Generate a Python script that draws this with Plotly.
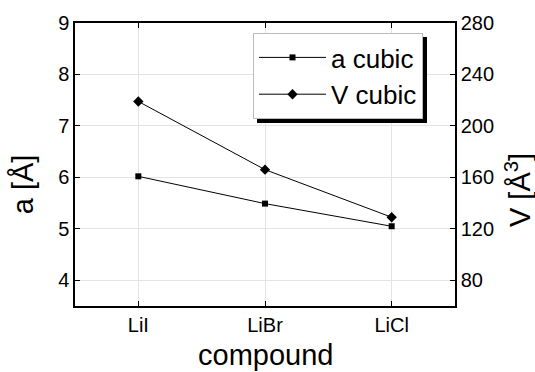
import plotly.graph_objects as go

compounds = ["LiI", "LiBr", "LiCl"]
a_cubic = [6.02, 5.49, 5.05]
v_cubic = [219.0, 166.0, 129.0]

FONT = "Liberation Sans, Arial, sans-serif"

# plot area in pixels: left 75, right 455, top 23, bottom 306
def px_x(p):
    return (p - 75) / 380.0

def px_y(p):
    return (306 - p) / 283.0

fig = go.Figure()
fig.add_trace(go.Scatter(
    x=compounds, y=a_cubic, name="a cubic", mode="lines+markers",
    line=dict(color="black", width=1),
    marker=dict(symbol="square", size=6, color="black"),
))
fig.add_trace(go.Scatter(
    x=compounds, y=v_cubic, name="V cubic", mode="lines+markers", yaxis="y2",
    line=dict(color="black", width=1),
    marker=dict(symbol="diamond", size=8, color="black"),
))

axis_common = dict(
    showline=True, linecolor="black", linewidth=1.5,
    ticks="inside", ticklen=5, tickcolor="black",
    gridcolor="#e3e3e3", gridwidth=1,
    tickfont=dict(size=20, color="black", family=FONT),
    zeroline=False,
)

fig.update_layout(
    width=535, height=372,
    margin=dict(l=75, r=80, t=23, b=66),
    paper_bgcolor="white", plot_bgcolor="white",
    font=dict(family=FONT, color="black"),
    xaxis=dict(**axis_common, showgrid=True, range=[-0.5, 2.5], mirror="ticks"),
    yaxis=dict(**axis_common, showgrid=True, range=[3.5, 9], dtick=1, mirror=False),
    yaxis2=dict(
        **axis_common, showgrid=False,
        overlaying="y", side="right", range=[60, 280],
        tickvals=[80, 120, 160, 200, 240, 280],
    ),
    legend=dict(
        x=px_x(253), y=px_y(33), xanchor="left", yanchor="top",
        bgcolor="white", bordercolor="#bbbbbb", borderwidth=1,
        font=dict(size=26, family=FONT, color="black"),
        tracegroupgap=0, itemwidth=67,
    ),
    showlegend=True,
    shapes=[
        dict(type="rect", xref="paper", yref="paper", layer="above",
             x0=px_x(257), x1=px_x(427), y0=px_y(123), y1=px_y(37),
             fillcolor="black", line=dict(width=0)),
    ],
    annotations=[
        dict(text="compound", xref="paper", yref="paper", x=0.5, y=-0.173,
             xanchor="center", yanchor="middle", showarrow=False,
             font=dict(size=29, family=FONT, color="black")),
        dict(text="a [Å]", xref="paper", yref="paper", x=-0.137, y=0.43,
             xanchor="center", yanchor="middle", showarrow=False, textangle=-90,
             font=dict(size=29, family=FONT, color="black")),
        dict(text="V [Å<sup>3</sup>]", xref="paper", yref="paper", x=1.166, y=0.41,
             xanchor="center", yanchor="middle", showarrow=False, textangle=-90,
             font=dict(size=29, family=FONT, color="black")),
    ],
)

fig.write_html("out.html")
